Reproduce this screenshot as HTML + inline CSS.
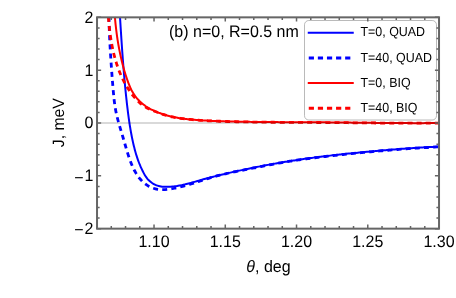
<!DOCTYPE html>
<html><head><meta charset="utf-8"><title>plot</title>
<style>
html,body{margin:0;padding:0;background:#fff;}
svg{display:block;font-family:"Liberation Sans",sans-serif;text-rendering:geometricPrecision;will-change:transform;}
</style></head><body>
<svg width="456" height="298" viewBox="0 0 456 298">
<rect width="456" height="298" fill="#fff"/>
<defs><clipPath id="c"><rect x="97.03" y="16.75" width="342.0" height="211.9"/></clipPath></defs>
<g clip-path="url(#c)" fill="none" stroke-linejoin="round">
<path d="M120.00 16.90C120.02 17.29 120.09 18.45 120.14 19.22C120.19 20.00 120.24 20.77 120.29 21.55C120.33 22.32 120.38 23.10 120.43 23.87C120.48 24.64 120.53 25.42 120.57 26.19C120.62 26.97 120.67 27.74 120.72 28.52C120.77 29.29 120.82 30.07 120.87 30.84C120.92 31.62 120.97 32.39 121.02 33.17C121.07 33.94 121.12 34.71 121.17 35.49C121.22 36.26 121.27 37.04 121.32 37.81C121.37 38.59 121.42 39.36 121.47 40.14C121.52 40.91 121.57 41.69 121.63 42.46C121.68 43.24 121.73 44.01 121.78 44.79C121.84 45.56 121.89 46.34 121.94 47.11C122.00 47.88 122.05 48.66 122.11 49.43C122.16 50.21 122.21 50.98 122.27 51.76C122.33 52.53 122.38 53.31 122.44 54.08C122.49 54.86 122.55 55.63 122.61 56.40C122.66 57.18 122.72 57.95 122.78 58.73C122.84 59.50 122.90 60.28 122.96 61.05C123.02 61.82 123.08 62.60 123.14 63.37C123.20 64.15 123.26 64.92 123.32 65.70C123.38 66.47 123.44 67.24 123.51 68.02C123.57 68.79 123.63 69.57 123.70 70.34C123.76 71.11 123.82 71.89 123.89 72.66C123.96 73.43 124.02 74.21 124.09 74.98C124.16 75.75 124.22 76.53 124.29 77.30C124.36 78.08 124.43 78.85 124.50 79.62C124.57 80.40 124.64 81.17 124.71 81.94C124.78 82.71 124.85 83.49 124.92 84.26C125.00 85.03 125.07 85.81 125.14 86.58C125.22 87.35 125.29 88.12 125.37 88.90C125.45 89.67 125.52 90.44 125.60 91.21C125.68 91.99 125.76 92.76 125.84 93.53C125.92 94.30 126.00 95.07 126.08 95.85C126.16 96.62 126.24 97.39 126.32 98.16C126.41 98.93 126.49 99.71 126.58 100.48C126.66 101.25 126.75 102.02 126.83 102.79C126.92 103.56 127.01 104.33 127.10 105.10C127.19 105.88 127.28 106.65 127.37 107.42C127.46 108.19 127.55 108.96 127.65 109.73C127.74 110.50 127.84 111.27 127.93 112.04C128.03 112.81 128.13 113.58 128.23 114.35C128.33 115.12 128.43 115.89 128.54 116.65C128.64 117.42 128.75 118.19 128.86 118.96C128.96 119.73 129.07 120.50 129.19 121.26C129.30 122.03 129.42 122.80 129.53 123.57C129.65 124.33 129.77 125.10 129.89 125.87C130.02 126.63 130.14 127.40 130.27 128.16C130.40 128.93 130.53 129.69 130.66 130.46C130.80 131.22 130.93 131.99 131.07 132.75C131.21 133.51 131.35 134.28 131.50 135.04C131.65 135.80 131.80 136.57 131.95 137.33C132.10 138.09 132.26 138.85 132.42 139.61C132.58 140.37 132.75 141.13 132.91 141.89C133.08 142.65 133.25 143.41 133.43 144.17C133.61 144.92 133.79 145.68 133.97 146.44C134.16 147.19 134.35 147.95 134.55 148.70C134.74 149.45 134.94 150.20 135.15 150.95C135.36 151.70 135.57 152.45 135.79 153.19C136.00 153.94 136.23 154.68 136.46 155.42C136.69 156.16 136.92 156.90 137.17 157.63C137.41 158.37 137.66 159.10 137.92 159.83C138.18 160.56 138.44 161.29 138.72 162.01C138.99 162.74 139.28 163.46 139.57 164.17C139.86 164.89 140.16 165.61 140.47 166.32C140.78 167.03 141.10 167.73 141.43 168.44C141.76 169.14 142.09 169.84 142.43 170.53C142.77 171.23 143.12 171.92 143.48 172.61C143.84 173.29 144.20 173.98 144.59 174.65C144.98 175.32 145.39 175.99 145.83 176.63C146.28 177.27 146.75 177.91 147.24 178.51C147.74 179.12 148.26 179.71 148.81 180.27C149.36 180.83 149.94 181.36 150.53 181.86C151.13 182.36 151.75 182.83 152.39 183.25C153.03 183.68 153.70 184.07 154.38 184.41C155.07 184.76 155.77 185.06 156.50 185.32C157.22 185.58 157.96 185.79 158.70 185.98C159.45 186.17 160.22 186.31 160.99 186.43C161.75 186.55 162.53 186.64 163.31 186.71C164.09 186.78 164.88 186.81 165.66 186.84C166.44 186.86 167.22 186.86 168.00 186.85C168.78 186.84 169.56 186.81 170.33 186.76C171.11 186.72 171.88 186.65 172.66 186.58C173.43 186.50 174.20 186.41 174.97 186.31C175.74 186.21 176.51 186.10 177.27 185.97C178.04 185.85 178.80 185.71 179.57 185.57C180.33 185.42 181.09 185.27 181.85 185.11C182.61 184.94 183.37 184.77 184.12 184.60C184.88 184.42 185.64 184.24 186.39 184.05C187.14 183.86 187.89 183.67 188.65 183.48C189.40 183.28 190.15 183.08 190.90 182.88C191.65 182.67 192.39 182.47 193.14 182.26C193.89 182.05 194.64 181.84 195.38 181.62C196.13 181.41 196.88 181.20 197.62 180.98C198.37 180.77 199.11 180.56 199.86 180.34C200.61 180.13 201.35 179.92 202.10 179.71C202.85 179.49 203.59 179.28 204.34 179.08C205.09 178.87 205.84 178.66 206.59 178.46C207.33 178.26 208.08 178.06 208.83 177.86C209.58 177.66 210.33 177.46 211.09 177.27C211.84 177.07 212.59 176.88 213.34 176.69C214.09 176.49 214.84 176.30 215.60 176.12C216.35 175.93 217.10 175.74 217.85 175.55C218.61 175.37 219.36 175.19 220.12 175.00C220.87 174.82 221.62 174.64 222.38 174.46C223.13 174.28 223.89 174.10 224.65 173.93C225.40 173.75 226.16 173.57 226.91 173.40C227.67 173.22 228.43 173.05 229.18 172.88C229.94 172.70 230.70 172.53 231.45 172.36C232.21 172.19 232.97 172.02 233.72 171.85C234.48 171.68 235.24 171.52 236.00 171.35C236.76 171.18 237.51 171.02 238.27 170.85C239.03 170.69 239.79 170.52 240.55 170.36C241.31 170.19 242.07 170.03 242.83 169.87C243.58 169.71 244.34 169.55 245.10 169.39C245.86 169.23 246.62 169.07 247.38 168.91C248.14 168.75 248.90 168.59 249.66 168.44C250.43 168.28 251.19 168.13 251.95 167.97C252.71 167.82 253.47 167.66 254.23 167.51C254.99 167.36 255.75 167.21 256.51 167.06C257.28 166.91 258.04 166.76 258.80 166.61C259.56 166.46 260.32 166.31 261.09 166.16C261.85 166.02 262.61 165.87 263.37 165.73C264.14 165.58 264.90 165.44 265.66 165.29C266.43 165.15 267.19 165.01 267.95 164.87C268.72 164.73 269.48 164.59 270.24 164.45C271.01 164.31 271.77 164.17 272.54 164.03C273.30 163.89 274.06 163.76 274.83 163.62C275.59 163.49 276.36 163.35 277.12 163.22C277.89 163.09 278.65 162.95 279.42 162.82C280.18 162.69 280.95 162.56 281.71 162.43C282.48 162.30 283.25 162.17 284.01 162.05C284.78 161.92 285.54 161.79 286.31 161.67C287.08 161.54 287.84 161.42 288.61 161.30C289.38 161.17 290.14 161.05 290.91 160.93C291.68 160.81 292.44 160.69 293.21 160.57C293.98 160.45 294.74 160.33 295.51 160.21C296.28 160.10 297.05 159.98 297.81 159.87C298.58 159.75 299.35 159.64 300.12 159.53C300.89 159.41 301.65 159.30 302.42 159.19C303.19 159.08 303.96 158.97 304.73 158.86C305.50 158.75 306.27 158.64 307.03 158.54C307.80 158.43 308.57 158.33 309.34 158.22C310.11 158.12 310.88 158.01 311.65 157.91C312.42 157.81 313.19 157.71 313.96 157.61C314.73 157.51 315.50 157.41 316.27 157.31C317.04 157.21 317.81 157.11 318.58 157.01C319.35 156.92 320.12 156.82 320.89 156.72C321.66 156.63 322.43 156.53 323.20 156.44C323.97 156.35 324.74 156.25 325.51 156.16C326.28 156.07 327.05 155.98 327.82 155.89C328.59 155.80 329.36 155.71 330.13 155.62C330.91 155.53 331.68 155.44 332.45 155.35C333.22 155.27 333.99 155.18 334.76 155.09C335.53 155.01 336.31 154.92 337.08 154.84C337.85 154.75 338.62 154.67 339.39 154.58C340.16 154.50 340.94 154.42 341.71 154.34C342.48 154.25 343.25 154.17 344.02 154.09C344.80 154.01 345.57 153.93 346.34 153.85C347.11 153.77 347.88 153.69 348.66 153.61C349.43 153.53 350.20 153.46 350.97 153.38C351.75 153.30 352.52 153.22 353.29 153.15C354.06 153.07 354.84 152.99 355.61 152.92C356.38 152.84 357.15 152.77 357.93 152.69C358.70 152.62 359.47 152.54 360.24 152.47C361.02 152.40 361.79 152.32 362.56 152.25C363.34 152.18 364.11 152.10 364.88 152.03C365.66 151.96 366.43 151.89 367.20 151.81C367.97 151.74 368.75 151.67 369.52 151.60C370.29 151.53 371.07 151.46 371.84 151.39C372.61 151.32 373.39 151.25 374.16 151.18C374.93 151.11 375.71 151.04 376.48 150.97C377.25 150.90 378.02 150.83 378.80 150.76C379.57 150.69 380.34 150.63 381.12 150.56C381.89 150.49 382.66 150.42 383.44 150.36C384.21 150.29 384.98 150.22 385.76 150.16C386.53 150.09 387.31 150.03 388.08 149.96C388.85 149.90 389.63 149.83 390.40 149.77C391.17 149.70 391.95 149.64 392.72 149.57C393.49 149.51 394.27 149.45 395.04 149.39C395.81 149.32 396.59 149.26 397.36 149.20C398.14 149.14 398.91 149.08 399.68 149.02C400.46 148.96 401.23 148.90 402.01 148.84C402.78 148.78 403.55 148.73 404.33 148.67C405.10 148.61 405.88 148.55 406.65 148.50C407.42 148.44 408.20 148.39 408.97 148.33C409.75 148.28 410.52 148.22 411.30 148.17C412.07 148.12 412.84 148.06 413.62 148.01C414.39 147.96 415.17 147.91 415.94 147.86C416.72 147.81 417.49 147.76 418.27 147.71C419.04 147.66 419.82 147.61 420.59 147.57C421.37 147.52 422.14 147.47 422.92 147.43C423.69 147.38 424.47 147.34 425.24 147.29C426.02 147.25 426.79 147.20 427.57 147.16C428.34 147.12 429.12 147.08 429.89 147.04C430.67 147.00 431.44 146.96 432.22 146.92C432.99 146.88 433.77 146.84 434.55 146.81C435.32 146.77 436.10 146.74 436.87 146.70C437.65 146.67 438.81 146.62 439.20 146.60" stroke="#00f" stroke-width="2"/>
<path d="M109.00 16.90C109.01 17.30 109.02 18.49 109.03 19.28C109.05 20.08 109.06 20.87 109.08 21.66C109.10 22.46 109.12 23.25 109.14 24.04C109.16 24.84 109.18 25.63 109.20 26.42C109.22 27.21 109.25 28.01 109.28 28.80C109.30 29.59 109.33 30.38 109.36 31.18C109.39 31.97 109.42 32.76 109.45 33.55C109.48 34.34 109.52 35.14 109.55 35.93C109.59 36.72 109.62 37.51 109.66 38.30C109.69 39.09 109.73 39.88 109.77 40.68C109.81 41.47 109.85 42.26 109.89 43.05C109.93 43.84 109.98 44.63 110.02 45.42C110.06 46.22 110.11 47.01 110.15 47.80C110.20 48.59 110.24 49.38 110.29 50.17C110.34 50.96 110.39 51.75 110.44 52.55C110.48 53.34 110.53 54.13 110.58 54.92C110.63 55.71 110.68 56.50 110.74 57.29C110.79 58.08 110.84 58.88 110.89 59.67C110.94 60.46 111.00 61.25 111.05 62.04C111.10 62.83 111.16 63.63 111.21 64.42C111.27 65.21 111.32 66.00 111.38 66.79C111.43 67.58 111.49 68.38 111.55 69.17C111.60 69.96 111.66 70.75 111.72 71.55C111.77 72.34 111.83 73.13 111.89 73.92C111.95 74.71 112.01 75.50 112.07 76.30C112.13 77.09 112.19 77.88 112.25 78.67C112.31 79.46 112.37 80.25 112.43 81.05C112.50 81.84 112.56 82.63 112.63 83.42C112.69 84.21 112.76 85.00 112.82 85.79C112.89 86.58 112.95 87.37 113.02 88.16C113.09 88.95 113.16 89.74 113.23 90.53C113.30 91.31 113.37 92.10 113.44 92.89C113.52 93.68 113.59 94.47 113.66 95.25C113.74 96.04 113.82 96.83 113.90 97.61C113.98 98.40 114.07 99.18 114.16 99.97C114.25 100.75 114.34 101.54 114.44 102.32C114.54 103.11 114.64 103.89 114.75 104.67C114.86 105.45 114.98 106.24 115.10 107.02C115.23 107.80 115.36 108.58 115.50 109.36C115.64 110.14 115.79 110.92 115.95 111.70C116.11 112.47 116.27 113.25 116.45 114.03C116.62 114.80 116.80 115.58 116.99 116.36C117.17 117.13 117.37 117.90 117.57 118.68C117.77 119.45 117.97 120.22 118.18 120.99C118.39 121.76 118.60 122.53 118.82 123.30C119.04 124.07 119.26 124.84 119.48 125.60C119.70 126.37 119.93 127.14 120.15 127.90C120.38 128.66 120.61 129.43 120.84 130.19C121.06 130.95 121.29 131.71 121.52 132.47C121.75 133.23 121.98 133.99 122.21 134.74C122.43 135.50 122.66 136.25 122.88 137.01C123.10 137.76 123.32 138.51 123.54 139.26C123.76 140.01 123.98 140.76 124.20 141.51C124.41 142.26 124.63 143.01 124.85 143.76C125.07 144.51 125.29 145.26 125.51 146.01C125.73 146.76 125.95 147.51 126.17 148.26C126.40 149.01 126.62 149.77 126.85 150.52C127.08 151.28 127.31 152.03 127.55 152.79C127.79 153.55 128.03 154.31 128.28 155.07C128.52 155.83 128.78 156.60 129.03 157.36C129.29 158.12 129.56 158.89 129.83 159.65C130.10 160.41 130.38 161.18 130.67 161.93C130.96 162.69 131.26 163.45 131.56 164.20C131.87 164.95 132.19 165.69 132.52 166.43C132.84 167.17 133.18 167.90 133.53 168.63C133.88 169.35 134.24 170.07 134.62 170.77C134.99 171.48 135.38 172.18 135.79 172.86C136.19 173.54 136.60 174.22 137.04 174.88C137.47 175.54 137.91 176.18 138.38 176.81C138.84 177.44 139.32 178.06 139.82 178.66C140.32 179.26 140.83 179.84 141.36 180.41C141.90 180.97 142.45 181.52 143.02 182.05C143.59 182.57 144.18 183.08 144.79 183.57C145.40 184.05 146.04 184.52 146.69 184.95C147.35 185.39 148.02 185.81 148.72 186.20C149.41 186.59 150.12 186.95 150.85 187.28C151.58 187.61 152.32 187.91 153.07 188.17C153.83 188.43 154.59 188.65 155.37 188.84C156.14 189.03 156.92 189.17 157.71 189.29C158.50 189.41 159.30 189.49 160.09 189.54C160.89 189.60 161.69 189.62 162.49 189.62C163.29 189.62 164.09 189.60 164.89 189.55C165.69 189.51 166.48 189.44 167.28 189.36C168.07 189.28 168.87 189.18 169.66 189.07C170.45 188.95 171.24 188.82 172.02 188.69C172.81 188.55 173.59 188.41 174.37 188.25C175.15 188.10 175.93 187.94 176.70 187.77C177.48 187.60 178.25 187.42 179.02 187.24C179.79 187.06 180.56 186.87 181.33 186.67C182.10 186.48 182.86 186.28 183.62 186.07C184.39 185.87 185.15 185.66 185.91 185.44C186.67 185.23 187.43 185.01 188.19 184.78C188.95 184.56 189.71 184.33 190.46 184.10C191.22 183.87 191.98 183.64 192.74 183.41C193.49 183.17 194.25 182.93 195.00 182.69C195.76 182.45 196.52 182.21 197.27 181.97C198.03 181.73 198.78 181.49 199.54 181.25C200.29 181.00 201.05 180.76 201.80 180.52C202.56 180.27 203.32 180.03 204.07 179.79C204.83 179.55 205.59 179.31 206.34 179.07C207.10 178.83 207.86 178.60 208.62 178.36C209.38 178.13 210.13 177.90 210.89 177.67C211.65 177.44 212.41 177.22 213.18 177.00C213.94 176.78 214.70 176.56 215.47 176.35C216.23 176.14 216.99 175.93 217.76 175.73C218.53 175.52 219.29 175.32 220.06 175.13C220.83 174.94 221.60 174.75 222.37 174.56C223.14 174.37 223.91 174.19 224.68 174.01C225.45 173.83 226.23 173.65 227.00 173.48C227.77 173.30 228.55 173.13 229.32 172.97C230.10 172.80 230.87 172.63 231.65 172.47C232.42 172.30 233.20 172.14 233.98 171.98C234.75 171.82 235.53 171.66 236.31 171.50C237.08 171.34 237.86 171.19 238.64 171.03C239.42 170.87 240.19 170.72 240.97 170.56C241.75 170.41 242.53 170.26 243.31 170.10C244.08 169.95 244.86 169.79 245.64 169.64C246.42 169.48 247.20 169.32 247.98 169.17C248.75 169.01 249.53 168.86 250.31 168.70C251.09 168.54 251.86 168.39 252.64 168.23C253.42 168.07 254.20 167.92 254.98 167.76C255.75 167.61 256.53 167.45 257.31 167.29C258.09 167.14 258.87 166.98 259.64 166.83C260.42 166.67 261.20 166.52 261.98 166.36C262.76 166.21 263.53 166.05 264.31 165.90C265.09 165.75 265.87 165.59 266.65 165.44C267.43 165.29 268.20 165.14 268.98 164.99C269.76 164.84 270.54 164.69 271.32 164.54C272.10 164.39 272.88 164.24 273.66 164.10C274.44 163.95 275.22 163.80 276.00 163.66C276.78 163.51 277.56 163.37 278.34 163.23C279.12 163.09 279.90 162.95 280.68 162.81C281.46 162.67 282.24 162.53 283.02 162.39C283.80 162.26 284.58 162.12 285.36 161.99C286.14 161.86 286.93 161.73 287.71 161.60C288.49 161.47 289.27 161.34 290.06 161.21C290.84 161.09 291.62 160.96 292.40 160.84C293.19 160.72 293.97 160.60 294.76 160.48C295.54 160.36 296.32 160.25 297.11 160.13C297.89 160.01 298.68 159.90 299.46 159.79C300.25 159.68 301.03 159.57 301.82 159.46C302.60 159.35 303.39 159.24 304.17 159.13C304.96 159.02 305.74 158.92 306.53 158.81C307.32 158.71 308.10 158.61 308.89 158.51C309.68 158.40 310.46 158.30 311.25 158.20C312.04 158.10 312.82 158.00 313.61 157.91C314.40 157.81 315.18 157.71 315.97 157.62C316.76 157.52 317.55 157.43 318.33 157.33C319.12 157.24 319.91 157.14 320.70 157.05C321.49 156.96 322.27 156.86 323.06 156.77C323.85 156.68 324.64 156.59 325.42 156.50C326.21 156.41 327.00 156.32 327.79 156.23C328.58 156.14 329.37 156.05 330.15 155.96C330.94 155.87 331.73 155.78 332.52 155.69C333.31 155.61 334.09 155.52 334.88 155.43C335.67 155.34 336.46 155.26 337.25 155.17C338.04 155.08 338.83 155.00 339.61 154.91C340.40 154.83 341.19 154.74 341.98 154.66C342.77 154.57 343.56 154.49 344.35 154.40C345.13 154.32 345.92 154.24 346.71 154.15C347.50 154.07 348.29 153.99 349.08 153.90C349.87 153.82 350.66 153.74 351.45 153.66C352.23 153.58 353.02 153.50 353.81 153.42C354.60 153.34 355.39 153.26 356.18 153.18C356.97 153.10 357.76 153.02 358.55 152.94C359.34 152.86 360.13 152.79 360.91 152.71C361.70 152.63 362.49 152.56 363.28 152.48C364.07 152.40 364.86 152.33 365.65 152.25C366.44 152.18 367.23 152.10 368.02 152.03C368.81 151.95 369.60 151.88 370.39 151.81C371.18 151.73 371.97 151.66 372.76 151.59C373.55 151.51 374.34 151.44 375.13 151.37C375.92 151.30 376.71 151.23 377.50 151.16C378.29 151.09 379.08 151.02 379.87 150.95C380.66 150.88 381.45 150.81 382.24 150.74C383.03 150.68 383.82 150.61 384.61 150.54C385.40 150.48 386.19 150.41 386.98 150.34C387.77 150.28 388.56 150.21 389.35 150.15C390.14 150.08 390.93 150.02 391.72 149.95C392.51 149.89 393.30 149.83 394.09 149.76C394.88 149.70 395.67 149.64 396.46 149.58C397.25 149.52 398.04 149.46 398.83 149.40C399.63 149.34 400.42 149.28 401.21 149.22C402.00 149.16 402.79 149.10 403.58 149.04C404.37 148.98 405.16 148.93 405.95 148.87C406.74 148.81 407.53 148.76 408.33 148.70C409.12 148.65 409.91 148.59 410.70 148.54C411.49 148.48 412.28 148.43 413.07 148.37C413.86 148.32 414.65 148.27 415.45 148.22C416.24 148.17 417.03 148.11 417.82 148.06C418.61 148.01 419.40 147.96 420.19 147.91C420.99 147.86 421.78 147.82 422.57 147.77C423.36 147.72 424.15 147.67 424.94 147.62C425.74 147.58 426.53 147.53 427.32 147.49C428.11 147.44 428.90 147.39 429.70 147.35C430.49 147.31 431.28 147.26 432.07 147.22C432.86 147.18 433.66 147.13 434.45 147.09C435.24 147.05 436.03 147.01 436.82 146.97C437.62 146.93 438.80 146.87 439.20 146.85" stroke="#00f" stroke-width="2.8" stroke-dasharray="5.0 4.165"/>
<path d="M114.90 16.90C114.93 17.23 115.01 18.21 115.07 18.87C115.12 19.53 115.18 20.19 115.24 20.84C115.30 21.50 115.37 22.15 115.43 22.81C115.50 23.47 115.56 24.12 115.63 24.78C115.70 25.43 115.77 26.09 115.85 26.74C115.92 27.40 115.99 28.05 116.07 28.71C116.15 29.36 116.23 30.01 116.31 30.67C116.39 31.32 116.47 31.97 116.56 32.63C116.64 33.28 116.73 33.93 116.82 34.59C116.91 35.24 117.00 35.89 117.09 36.54C117.19 37.19 117.28 37.84 117.38 38.49C117.48 39.14 117.58 39.79 117.68 40.44C117.79 41.09 117.89 41.74 118.00 42.39C118.11 43.04 118.22 43.69 118.33 44.34C118.44 44.99 118.55 45.63 118.67 46.28C118.79 46.93 118.91 47.57 119.03 48.22C119.15 48.87 119.27 49.51 119.40 50.16C119.53 50.80 119.66 51.45 119.79 52.09C119.92 52.74 120.05 53.38 120.19 54.02C120.33 54.67 120.46 55.31 120.61 55.95C120.75 56.60 120.89 57.24 121.04 57.88C121.18 58.52 121.33 59.16 121.49 59.80C121.64 60.44 121.79 61.08 121.95 61.72C122.11 62.36 122.26 63.00 122.43 63.63C122.59 64.27 122.75 64.91 122.92 65.55C123.09 66.18 123.26 66.82 123.43 67.45C123.61 68.09 123.78 68.72 123.96 69.36C124.14 69.99 124.32 70.63 124.51 71.26C124.69 71.89 124.88 72.52 125.07 73.15C125.27 73.79 125.46 74.42 125.66 75.04C125.86 75.67 126.06 76.30 126.27 76.93C126.48 77.55 126.69 78.18 126.90 78.80C127.12 79.43 127.34 80.05 127.56 80.67C127.79 81.29 128.02 81.91 128.25 82.53C128.49 83.15 128.72 83.76 128.97 84.38C129.21 84.99 129.46 85.61 129.72 86.22C129.97 86.83 130.23 87.44 130.50 88.04C130.78 88.65 131.05 89.25 131.35 89.84C131.64 90.43 131.95 91.01 132.27 91.59C132.58 92.16 132.92 92.73 133.26 93.28C133.61 93.84 133.97 94.39 134.34 94.93C134.71 95.47 135.10 95.99 135.49 96.51C135.89 97.03 136.30 97.55 136.72 98.05C137.14 98.55 137.57 99.04 138.01 99.52C138.46 100.00 138.91 100.47 139.37 100.93C139.84 101.39 140.31 101.84 140.79 102.28C141.28 102.72 141.77 103.15 142.27 103.57C142.78 103.99 143.29 104.40 143.81 104.80C144.33 105.19 144.86 105.58 145.40 105.96C145.94 106.33 146.48 106.70 147.04 107.05C147.59 107.40 148.15 107.75 148.72 108.08C149.29 108.41 149.86 108.73 150.45 109.05C151.03 109.36 151.61 109.66 152.21 109.95C152.80 110.25 153.40 110.53 154.00 110.81C154.60 111.08 155.21 111.35 155.82 111.61C156.43 111.86 157.05 112.11 157.67 112.35C158.29 112.59 158.91 112.83 159.53 113.05C160.16 113.28 160.79 113.50 161.41 113.71C162.04 113.92 162.68 114.12 163.31 114.32C163.94 114.51 164.57 114.70 165.21 114.89C165.84 115.07 166.48 115.25 167.12 115.42C167.75 115.59 168.39 115.75 169.03 115.91C169.67 116.07 170.31 116.22 170.95 116.37C171.59 116.52 172.23 116.66 172.88 116.80C173.52 116.93 174.16 117.07 174.81 117.19C175.45 117.32 176.10 117.44 176.74 117.56C177.39 117.67 178.03 117.79 178.68 117.89C179.33 118.00 179.98 118.10 180.63 118.20C181.27 118.30 181.92 118.40 182.57 118.49C183.22 118.58 183.87 118.67 184.52 118.75C185.18 118.84 185.83 118.92 186.48 118.99C187.13 119.07 187.78 119.15 188.44 119.22C189.09 119.29 189.74 119.36 190.40 119.42C191.05 119.49 191.70 119.55 192.36 119.61C193.01 119.67 193.67 119.73 194.32 119.79C194.98 119.85 195.63 119.90 196.29 119.95C196.95 120.01 197.60 120.06 198.26 120.10C198.91 120.15 199.57 120.20 200.23 120.25C200.88 120.29 201.54 120.34 202.20 120.38C202.85 120.42 203.51 120.46 204.17 120.50C204.82 120.54 205.48 120.58 206.14 120.62C206.80 120.65 207.46 120.69 208.11 120.72C208.77 120.75 209.43 120.79 210.09 120.82C210.75 120.85 211.40 120.88 212.06 120.91C212.72 120.94 213.38 120.96 214.04 120.99C214.70 121.02 215.35 121.04 216.01 121.07C216.67 121.09 217.33 121.12 217.99 121.14C218.65 121.16 219.31 121.19 219.97 121.21C220.63 121.23 221.29 121.25 221.94 121.27C222.60 121.29 223.26 121.31 223.92 121.33C224.58 121.35 225.24 121.37 225.90 121.38C226.56 121.40 227.22 121.42 227.88 121.44C228.53 121.45 229.19 121.47 229.85 121.48C230.51 121.50 231.17 121.52 231.83 121.53C232.49 121.55 233.15 121.56 233.81 121.58C234.46 121.59 235.12 121.61 235.78 121.62C236.44 121.63 237.10 121.65 237.76 121.66C238.42 121.67 239.07 121.69 239.73 121.70C240.39 121.71 241.05 121.72 241.71 121.74C242.37 121.75 243.03 121.76 243.69 121.77C244.34 121.78 245.00 121.79 245.66 121.80C246.32 121.81 246.98 121.82 247.64 121.83C248.29 121.84 248.95 121.85 249.61 121.86C250.27 121.87 250.93 121.88 251.59 121.89C252.25 121.90 252.90 121.91 253.56 121.91C254.22 121.92 254.88 121.93 255.54 121.94C256.20 121.95 256.85 121.95 257.51 121.96C258.17 121.97 258.83 121.98 259.49 121.98C260.14 121.99 260.80 122.00 261.46 122.00C262.12 122.01 262.78 122.01 263.44 122.02C264.09 122.03 264.75 122.03 265.41 122.04C266.07 122.04 266.73 122.05 267.38 122.05C268.04 122.06 268.70 122.06 269.36 122.07C270.02 122.07 270.68 122.08 271.33 122.08C271.99 122.09 272.65 122.09 273.31 122.10C273.97 122.10 274.62 122.11 275.28 122.11C275.94 122.11 276.60 122.12 277.26 122.12C277.91 122.13 278.57 122.13 279.23 122.13C279.89 122.14 280.55 122.14 281.20 122.14C281.86 122.15 282.52 122.15 283.18 122.15C283.84 122.16 284.50 122.16 285.15 122.16C285.81 122.17 286.47 122.17 287.13 122.17C287.79 122.17 288.44 122.18 289.10 122.18C289.76 122.18 290.42 122.19 291.08 122.19C291.73 122.19 292.39 122.19 293.05 122.20C293.71 122.20 294.37 122.20 295.02 122.20C295.68 122.21 296.34 122.21 297.00 122.21C297.66 122.22 298.31 122.22 298.97 122.22C299.63 122.22 300.29 122.23 300.95 122.23C301.60 122.23 302.26 122.24 302.92 122.24C303.58 122.24 304.24 122.24 304.89 122.25C305.55 122.25 306.21 122.25 306.87 122.26C307.53 122.26 308.18 122.26 308.84 122.26C309.50 122.27 310.16 122.27 310.82 122.27C311.47 122.28 312.13 122.28 312.79 122.29C313.45 122.29 314.11 122.29 314.77 122.30C315.42 122.30 316.08 122.30 316.74 122.31C317.40 122.31 318.06 122.32 318.71 122.32C319.37 122.32 320.03 122.33 320.69 122.33C321.35 122.34 322.01 122.34 322.66 122.35C323.32 122.35 323.98 122.36 324.64 122.36C325.30 122.37 325.95 122.37 326.61 122.38C327.27 122.38 327.93 122.39 328.59 122.39C329.25 122.40 329.90 122.40 330.56 122.41C331.22 122.42 331.88 122.42 332.54 122.43C333.20 122.43 333.85 122.44 334.51 122.45C335.17 122.45 335.83 122.46 336.49 122.46C337.15 122.47 337.80 122.48 338.46 122.48C339.12 122.49 339.78 122.50 340.44 122.50C341.10 122.51 341.76 122.52 342.41 122.52C343.07 122.53 343.73 122.54 344.39 122.54C345.05 122.55 345.71 122.56 346.36 122.56C347.02 122.57 347.68 122.58 348.34 122.59C349.00 122.59 349.66 122.60 350.32 122.61C350.97 122.61 351.63 122.62 352.29 122.63C352.95 122.63 353.61 122.64 354.27 122.65C354.92 122.66 355.58 122.66 356.24 122.67C356.90 122.68 357.56 122.68 358.22 122.69C358.88 122.70 359.53 122.71 360.19 122.71C360.85 122.72 361.51 122.73 362.17 122.73C362.83 122.74 363.49 122.75 364.14 122.76C364.80 122.76 365.46 122.77 366.12 122.78C366.78 122.78 367.44 122.79 368.10 122.80C368.75 122.81 369.41 122.81 370.07 122.82C370.73 122.83 371.39 122.83 372.05 122.84C372.71 122.85 373.36 122.85 374.02 122.86C374.68 122.87 375.34 122.87 376.00 122.88C376.66 122.89 377.32 122.89 377.97 122.90C378.63 122.91 379.29 122.91 379.95 122.92C380.61 122.92 381.27 122.93 381.93 122.94C382.58 122.94 383.24 122.95 383.90 122.95C384.56 122.96 385.22 122.97 385.88 122.97C386.53 122.98 387.19 122.98 387.85 122.99C388.51 122.99 389.17 123.00 389.83 123.00C390.49 123.01 391.14 123.01 391.80 123.02C392.46 123.02 393.12 123.03 393.78 123.03C394.44 123.04 395.10 123.04 395.75 123.05C396.41 123.05 397.07 123.06 397.73 123.06C398.39 123.06 399.05 123.07 399.70 123.07C400.36 123.08 401.02 123.08 401.68 123.08C402.34 123.09 403.00 123.09 403.66 123.09C404.31 123.10 404.97 123.10 405.63 123.10C406.29 123.10 406.95 123.11 407.61 123.11C408.26 123.11 408.92 123.11 409.58 123.12C410.24 123.12 410.90 123.12 411.56 123.12C412.21 123.12 412.87 123.12 413.53 123.13C414.19 123.13 414.85 123.13 415.51 123.13C416.16 123.13 416.82 123.13 417.48 123.13C418.14 123.13 418.80 123.13 419.46 123.13C420.11 123.13 420.77 123.13 421.43 123.13C422.09 123.13 422.75 123.13 423.41 123.13C424.06 123.13 424.72 123.12 425.38 123.12C426.04 123.12 426.70 123.12 427.35 123.12C428.01 123.12 428.67 123.11 429.33 123.11C429.99 123.11 430.65 123.11 431.30 123.10C431.96 123.10 432.62 123.10 433.28 123.09C433.94 123.09 434.59 123.08 435.25 123.08C435.91 123.08 436.57 123.07 437.23 123.07C437.88 123.06 438.87 123.05 439.20 123.05" stroke="#f00" stroke-width="2"/>
<path d="M108.35 16.90C108.38 17.23 108.46 18.22 108.51 18.88C108.57 19.54 108.62 20.20 108.68 20.86C108.74 21.52 108.80 22.19 108.86 22.85C108.93 23.51 108.99 24.17 109.06 24.83C109.12 25.49 109.19 26.15 109.26 26.81C109.33 27.47 109.41 28.13 109.48 28.79C109.56 29.46 109.64 30.12 109.72 30.78C109.80 31.44 109.88 32.10 109.97 32.76C110.05 33.42 110.14 34.07 110.23 34.73C110.32 35.39 110.42 36.05 110.51 36.71C110.61 37.37 110.71 38.02 110.81 38.68C110.91 39.34 111.02 40.00 111.13 40.65C111.24 41.31 111.35 41.96 111.46 42.62C111.58 43.27 111.70 43.92 111.82 44.58C111.94 45.23 112.07 45.88 112.20 46.53C112.33 47.19 112.46 47.84 112.60 48.49C112.73 49.14 112.87 49.78 113.02 50.43C113.16 51.08 113.31 51.73 113.46 52.37C113.61 53.02 113.77 53.66 113.93 54.31C114.09 54.95 114.25 55.59 114.42 56.23C114.59 56.87 114.76 57.51 114.94 58.15C115.11 58.79 115.30 59.43 115.48 60.07C115.67 60.70 115.86 61.34 116.05 61.97C116.25 62.60 116.45 63.24 116.65 63.87C116.86 64.50 117.07 65.12 117.28 65.75C117.49 66.38 117.71 67.01 117.94 67.63C118.16 68.25 118.39 68.88 118.63 69.50C118.86 70.12 119.10 70.74 119.35 71.35C119.59 71.97 119.84 72.59 120.10 73.20C120.35 73.81 120.61 74.43 120.88 75.03C121.15 75.64 121.42 76.25 121.70 76.86C121.98 77.46 122.26 78.06 122.55 78.66C122.84 79.26 123.13 79.86 123.44 80.45C123.74 81.05 124.04 81.64 124.36 82.23C124.67 82.81 124.99 83.40 125.31 83.98C125.64 84.56 125.97 85.14 126.31 85.71C126.64 86.29 126.99 86.86 127.34 87.42C127.69 87.99 128.04 88.55 128.40 89.11C128.77 89.67 129.14 90.22 129.51 90.77C129.89 91.32 130.27 91.87 130.66 92.41C131.04 92.95 131.44 93.48 131.84 94.01C132.24 94.54 132.65 95.07 133.07 95.59C133.48 96.11 133.90 96.62 134.33 97.13C134.76 97.64 135.20 98.14 135.64 98.64C136.08 99.13 136.53 99.62 136.99 100.10C137.45 100.58 137.92 101.05 138.39 101.51C138.87 101.97 139.35 102.42 139.85 102.86C140.34 103.30 140.84 103.73 141.36 104.14C141.87 104.55 142.39 104.96 142.92 105.34C143.45 105.73 144.00 106.10 144.55 106.46C145.10 106.82 145.67 107.16 146.24 107.48C146.81 107.81 147.40 108.12 147.99 108.41C148.58 108.71 149.19 108.99 149.79 109.26C150.40 109.54 151.02 109.80 151.63 110.06C152.25 110.31 152.87 110.56 153.49 110.81C154.11 111.06 154.73 111.31 155.36 111.55C155.98 111.80 156.60 112.04 157.22 112.28C157.85 112.52 158.47 112.75 159.10 112.98C159.73 113.21 160.35 113.44 160.98 113.66C161.61 113.88 162.24 114.10 162.87 114.31C163.50 114.52 164.13 114.72 164.77 114.92C165.40 115.12 166.04 115.31 166.67 115.50C167.31 115.68 167.95 115.86 168.59 116.03C169.23 116.20 169.87 116.36 170.52 116.51C171.16 116.66 171.81 116.81 172.46 116.94C173.11 117.08 173.76 117.21 174.41 117.33C175.07 117.45 175.72 117.56 176.37 117.68C177.03 117.79 177.68 117.89 178.34 117.99C179.00 118.09 179.65 118.19 180.31 118.28C180.97 118.38 181.63 118.47 182.28 118.56C182.94 118.64 183.60 118.73 184.26 118.81C184.92 118.89 185.58 118.97 186.24 119.05C186.90 119.13 187.56 119.20 188.22 119.27C188.88 119.34 189.54 119.41 190.20 119.48C190.86 119.55 191.52 119.61 192.18 119.67C192.84 119.73 193.50 119.79 194.16 119.85C194.82 119.91 195.48 119.96 196.15 120.02C196.81 120.07 197.47 120.12 198.13 120.17C198.79 120.22 199.46 120.27 200.12 120.31C200.78 120.36 201.44 120.40 202.11 120.44C202.77 120.48 203.43 120.52 204.10 120.56C204.76 120.60 205.42 120.64 206.09 120.68C206.75 120.71 207.41 120.75 208.08 120.78C208.74 120.81 209.40 120.85 210.07 120.88C210.73 120.91 211.40 120.94 212.06 120.97C212.72 120.99 213.39 121.02 214.05 121.05C214.72 121.08 215.38 121.10 216.04 121.13C216.71 121.15 217.37 121.18 218.04 121.20C218.70 121.22 219.37 121.25 220.03 121.27C220.69 121.29 221.36 121.32 222.02 121.34C222.69 121.36 223.35 121.38 224.01 121.40C224.68 121.42 225.34 121.44 226.01 121.46C226.67 121.48 227.34 121.50 228.00 121.52C228.66 121.54 229.33 121.56 229.99 121.58C230.66 121.59 231.32 121.61 231.98 121.63C232.65 121.65 233.31 121.66 233.98 121.68C234.64 121.70 235.31 121.71 235.97 121.73C236.63 121.74 237.30 121.76 237.96 121.77C238.63 121.79 239.29 121.80 239.95 121.82C240.62 121.83 241.28 121.84 241.95 121.86C242.61 121.87 243.27 121.88 243.94 121.90C244.60 121.91 245.27 121.92 245.93 121.93C246.60 121.94 247.26 121.96 247.92 121.97C248.59 121.98 249.25 121.99 249.92 122.00C250.58 122.01 251.24 122.02 251.91 122.03C252.57 122.04 253.24 122.05 253.90 122.06C254.56 122.07 255.23 122.08 255.89 122.09C256.56 122.09 257.22 122.10 257.88 122.11C258.55 122.12 259.21 122.13 259.88 122.14C260.54 122.14 261.21 122.15 261.87 122.16C262.53 122.17 263.20 122.17 263.86 122.18C264.53 122.19 265.19 122.19 265.85 122.20C266.52 122.21 267.18 122.21 267.85 122.22C268.51 122.22 269.17 122.23 269.84 122.23C270.50 122.24 271.17 122.25 271.83 122.25C272.49 122.26 273.16 122.26 273.82 122.27C274.49 122.27 275.15 122.28 275.81 122.28C276.48 122.28 277.14 122.29 277.81 122.29C278.47 122.30 279.13 122.30 279.80 122.31C280.46 122.31 281.13 122.31 281.79 122.32C282.46 122.32 283.12 122.32 283.78 122.33C284.45 122.33 285.11 122.34 285.78 122.34C286.44 122.34 287.10 122.35 287.77 122.35C288.43 122.35 289.10 122.35 289.76 122.36C290.42 122.36 291.09 122.36 291.75 122.37C292.42 122.37 293.08 122.37 293.74 122.38C294.41 122.38 295.07 122.38 295.74 122.38C296.40 122.39 297.06 122.39 297.73 122.39C298.39 122.40 299.06 122.40 299.72 122.40C300.38 122.40 301.05 122.41 301.71 122.41C302.38 122.41 303.04 122.41 303.71 122.42C304.37 122.42 305.03 122.42 305.70 122.43C306.36 122.43 307.03 122.43 307.69 122.43C308.35 122.44 309.02 122.44 309.68 122.44C310.35 122.45 311.01 122.45 311.67 122.45C312.34 122.46 313.00 122.46 313.67 122.46C314.33 122.47 315.00 122.47 315.66 122.47C316.32 122.48 316.99 122.48 317.65 122.48C318.32 122.49 318.98 122.49 319.64 122.50C320.31 122.50 320.97 122.50 321.64 122.51C322.30 122.51 322.96 122.52 323.63 122.52C324.29 122.52 324.96 122.53 325.62 122.53C326.29 122.54 326.95 122.54 327.61 122.55C328.28 122.55 328.94 122.56 329.61 122.56C330.27 122.57 330.93 122.57 331.60 122.58C332.26 122.58 332.93 122.59 333.59 122.59C334.26 122.60 334.92 122.61 335.58 122.61C336.25 122.62 336.91 122.62 337.58 122.63C338.24 122.63 338.91 122.64 339.57 122.65C340.23 122.65 340.90 122.66 341.56 122.66C342.23 122.67 342.89 122.68 343.55 122.68C344.22 122.69 344.88 122.69 345.55 122.70C346.21 122.71 346.88 122.71 347.54 122.72C348.20 122.72 348.87 122.73 349.53 122.74C350.20 122.74 350.86 122.75 351.53 122.76C352.19 122.76 352.85 122.77 353.52 122.78C354.18 122.78 354.85 122.79 355.51 122.79C356.17 122.80 356.84 122.81 357.50 122.81C358.17 122.82 358.83 122.83 359.50 122.83C360.16 122.84 360.82 122.85 361.49 122.85C362.15 122.86 362.82 122.86 363.48 122.87C364.15 122.88 364.81 122.88 365.47 122.89C366.14 122.90 366.80 122.90 367.47 122.91C368.13 122.92 368.80 122.92 369.46 122.93C370.12 122.93 370.79 122.94 371.45 122.95C372.12 122.95 372.78 122.96 373.45 122.96C374.11 122.97 374.77 122.98 375.44 122.98C376.10 122.99 376.77 122.99 377.43 123.00C378.10 123.01 378.76 123.01 379.42 123.02C380.09 123.02 380.75 123.03 381.42 123.03C382.08 123.04 382.74 123.04 383.41 123.05C384.07 123.05 384.74 123.06 385.40 123.06C386.07 123.07 386.73 123.08 387.39 123.08C388.06 123.09 388.72 123.09 389.39 123.09C390.05 123.10 390.72 123.10 391.38 123.11C392.04 123.11 392.71 123.12 393.37 123.12C394.04 123.13 394.70 123.13 395.37 123.13C396.03 123.14 396.69 123.14 397.36 123.15C398.02 123.15 398.69 123.15 399.35 123.16C400.01 123.16 400.68 123.16 401.34 123.17C402.01 123.17 402.67 123.17 403.34 123.18C404.00 123.18 404.66 123.18 405.33 123.18C405.99 123.19 406.66 123.19 407.32 123.19C407.99 123.19 408.65 123.20 409.31 123.20C409.98 123.20 410.64 123.20 411.31 123.20C411.97 123.21 412.63 123.21 413.30 123.21C413.96 123.21 414.63 123.21 415.29 123.21C415.96 123.21 416.62 123.21 417.28 123.21C417.95 123.21 418.61 123.21 419.28 123.21C419.94 123.21 420.60 123.21 421.27 123.21C421.93 123.21 422.60 123.21 423.26 123.21C423.93 123.21 424.59 123.21 425.25 123.21C425.92 123.21 426.58 123.21 427.25 123.21C427.91 123.20 428.57 123.20 429.24 123.20C429.90 123.20 430.57 123.20 431.23 123.19C431.90 123.19 432.56 123.19 433.22 123.18C433.89 123.18 434.55 123.18 435.22 123.17C435.88 123.17 436.54 123.17 437.21 123.16C437.87 123.16 438.87 123.15 439.20 123.15" stroke="#f00" stroke-width="2.8" stroke-dasharray="5.0 4.12"/>
</g>
<rect x="304.5" y="20.5" width="132" height="99.5" rx="4.3" ry="4.3" fill="#fff" stroke="#a8a8a8" stroke-width="0.8"/>
<path d="M307.75 32.75H353.75" stroke="#00f" stroke-width="2" fill="none"/><text transform="translate(360.5 36.45) scale(1.003 1.065)" font-size="12.4">T=0, QUAD</text><path d="M308.75 57.90H350.5" stroke="#00f" stroke-width="3" stroke-dasharray="5.2 3.9" fill="none"/><text transform="translate(360.5 61.60) scale(1.003 1.065)" font-size="12.4">T=40, QUAD</text><path d="M307.75 83.05H353.75" stroke="#f00" stroke-width="2" fill="none"/><text transform="translate(360.5 86.75) scale(1.003 1.065)" font-size="12.4">T=0, BIQ</text><path d="M308.75 108.30H350.5" stroke="#f00" stroke-width="3" stroke-dasharray="5.2 3.9" fill="none"/><text transform="translate(360.5 112.00) scale(1.003 1.065)" font-size="12.4">T=40, BIQ</text>
<path d="M97.03 123.0H439.03" stroke="#000" stroke-opacity="0.2" stroke-width="1.4" fill="none"/>
<g stroke="#666" stroke-width="1.5" fill="none"><path d="M97.03 228.65v-2.60M97.03 17.35v2.60"/><path d="M111.28 228.65v-2.60M111.28 17.35v2.60"/><path d="M125.53 228.65v-2.60M125.53 17.35v2.60"/><path d="M139.78 228.65v-2.60M139.78 17.35v2.60"/><path d="M154.03 228.65v-4.10M154.03 17.35v4.10"/><path d="M168.28 228.65v-2.60M168.28 17.35v2.60"/><path d="M182.53 228.65v-2.60M182.53 17.35v2.60"/><path d="M196.78 228.65v-2.60M196.78 17.35v2.60"/><path d="M211.03 228.65v-2.60M211.03 17.35v2.60"/><path d="M225.28 228.65v-4.10M225.28 17.35v4.10"/><path d="M239.53 228.65v-2.60M239.53 17.35v2.60"/><path d="M253.78 228.65v-2.60M253.78 17.35v2.60"/><path d="M268.03 228.65v-2.60M268.03 17.35v2.60"/><path d="M282.28 228.65v-2.60M282.28 17.35v2.60"/><path d="M296.53 228.65v-4.10M296.53 17.35v4.10"/><path d="M310.78 228.65v-2.60M310.78 17.35v2.60"/><path d="M325.03 228.65v-2.60M325.03 17.35v2.60"/><path d="M339.28 228.65v-2.60M339.28 17.35v2.60"/><path d="M353.53 228.65v-2.60M353.53 17.35v2.60"/><path d="M367.78 228.65v-4.10M367.78 17.35v4.10"/><path d="M382.03 228.65v-2.60M382.03 17.35v2.60"/><path d="M396.28 228.65v-2.60M396.28 17.35v2.60"/><path d="M410.53 228.65v-2.60M410.53 17.35v2.60"/><path d="M424.78 228.65v-2.60M424.78 17.35v2.60"/><path d="M439.03 228.65v-4.10M439.03 17.35v4.10"/><path d="M97.03 228.65h4.10M439.03 228.65h-4.10"/><path d="M97.03 218.09h2.60M439.03 218.09h-2.60"/><path d="M97.03 207.52h2.60M439.03 207.52h-2.60"/><path d="M97.03 196.96h2.60M439.03 196.96h-2.60"/><path d="M97.03 186.39h2.60M439.03 186.39h-2.60"/><path d="M97.03 175.83h4.10M439.03 175.83h-4.10"/><path d="M97.03 165.26h2.60M439.03 165.26h-2.60"/><path d="M97.03 154.69h2.60M439.03 154.69h-2.60"/><path d="M97.03 144.13h2.60M439.03 144.13h-2.60"/><path d="M97.03 133.57h2.60M439.03 133.57h-2.60"/><path d="M97.03 123.00h4.10M439.03 123.00h-4.10"/><path d="M97.03 112.44h2.60M439.03 112.44h-2.60"/><path d="M97.03 101.87h2.60M439.03 101.87h-2.60"/><path d="M97.03 91.31h2.60M439.03 91.31h-2.60"/><path d="M97.03 80.74h2.60M439.03 80.74h-2.60"/><path d="M97.03 70.18h4.10M439.03 70.18h-4.10"/><path d="M97.03 59.61h2.60M439.03 59.61h-2.60"/><path d="M97.03 49.04h2.60M439.03 49.04h-2.60"/><path d="M97.03 38.48h2.60M439.03 38.48h-2.60"/><path d="M97.03 27.91h2.60M439.03 27.91h-2.60"/><path d="M97.03 17.35h4.10M439.03 17.35h-4.10"/></g>
<rect x="97.03" y="17.35" width="342.0" height="211.3" fill="none" stroke="#666" stroke-width="2"/>
<g font-size="16" fill="#000">
<text transform="translate(154.03 246.9) scale(1 1.04)" text-anchor="middle">1.10</text><text transform="translate(225.28 246.9) scale(1 1.04)" text-anchor="middle">1.15</text><text transform="translate(296.53 246.9) scale(1 1.04)" text-anchor="middle">1.20</text><text transform="translate(367.78 246.9) scale(1 1.04)" text-anchor="middle">1.25</text><text transform="translate(439.03 246.9) scale(1 1.04)" text-anchor="middle">1.30</text><text transform="translate(93.4 22.80) scale(1 1.04)" text-anchor="end">2</text><text transform="translate(93.4 75.63) scale(1 1.04)" text-anchor="end">1</text><text transform="translate(93.4 128.45) scale(1 1.04)" text-anchor="end">0</text><text transform="translate(93.4 181.28) scale(1 1.04)" text-anchor="end">1</text><text x="83.5" y="182.53" text-anchor="end">−</text><text transform="translate(93.4 234.10) scale(1 1.04)" text-anchor="end">2</text><text x="83.5" y="235.35" text-anchor="end">−</text>
<text transform="translate(169 37.3) scale(1 1.04)">(b) n=0, R=0.5 nm</text>
<text transform="translate(64.3 147.2) rotate(-90) scale(1 1.04)" font-size="15.75">J, meV</text>
<text transform="translate(246.3 272.1) scale(1 1.04)"><tspan font-style="italic">θ</tspan>, deg</text>
</g>
</svg>
</body></html>
